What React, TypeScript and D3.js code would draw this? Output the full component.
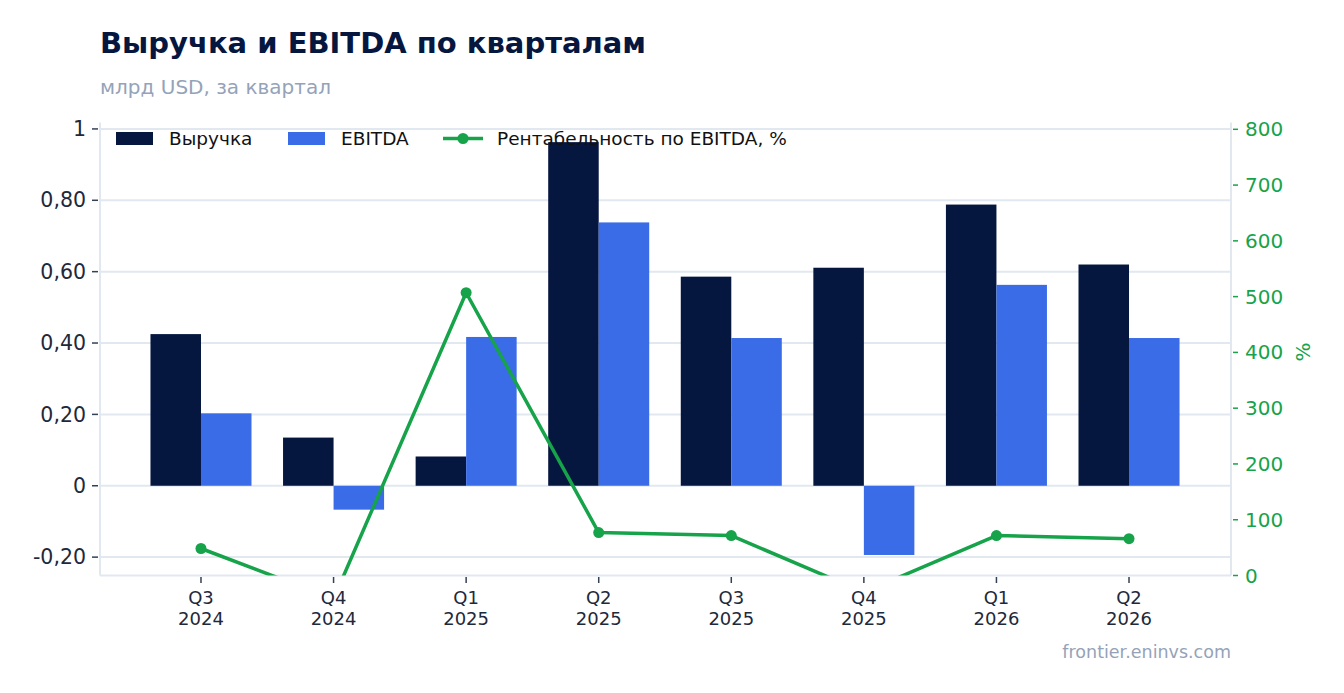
import React from "react";
import * as d3 from "d3";

const quarters = ["Q3", "Q4", "Q1", "Q2", "Q3", "Q4", "Q1", "Q2"];
const years = ["2024", "2024", "2025", "2025", "2025", "2025", "2026", "2026"];
const revenue = [0.425, 0.135, 0.082, 0.963, 0.586, 0.611, 0.788, 0.62];
const ebitda = [0.203, -0.067, 0.417, 0.738, 0.414, -0.194, 0.563, 0.414];
const margin = [48.4, -42, 507, 77, 71.5, -30, 71.5, 66];
const leftTicks = [-0.2, 0, 0.2, 0.4, 0.6, 0.8, 1];
const leftTickLabels = ["-0,20", "0", "0,20", "0,40", "0,60", "0,80", "1"];
const rightTicks = [0, 100, 200, 300, 400, 500, 600, 700, 800];

const W = 1344;
const H = 693;
const plotL = 100;
const plotR = 1231;
const plotT = 122.5;
const plotB = 575.5;

const NAVY = "#05163f";
const BLUE = "#3b6ce7";
const GREEN = "#16a34a";
const GRID = "#e2e8f0";
const TEXT = "#1e293b";
const MUTED = "#94a3b8";
const FONT = "'DejaVu Sans', sans-serif";

export default function App() {
  const keys = quarters.map((q, i) => `${q}-${years[i]}`);
  const x = d3.scaleBand<string>().domain(keys).range([134.7, 1195.3]).padding(0);
  const bw = x.bandwidth();
  const x1 = d3
    .scaleBand<string>()
    .domain(["rev", "ebitda"])
    .range([bw * 0.119, bw * 0.881])
    .padding(0);
  const yL = d3.scaleLinear().domain([-0.2515, 1.018]).range([plotB, plotT]);
  const yR = d3.scaleLinear().domain([0, 812.2]).range([plotB, plotT]);
  const cx = (i: number) => (x(keys[i]) ?? 0) + bw / 2;

  const line = d3
    .line<number>()
    .x((_, i) => cx(i))
    .y((d) => yR(d));

  return (
    <svg
      width={W}
      height={H}
      style={{ position: "absolute", left: 0, top: 0, background: "#fff" }}
      fontFamily={FONT}
    >
      <defs>
        <clipPath id="plotclip">
          <rect x={plotL} y={plotT} width={plotR - plotL} height={plotB - plotT} />
        </clipPath>
      </defs>
      <text x={100} y={53} fontSize={29} fontWeight="bold" fill={NAVY}>
        Выручка и EBITDA по кварталам
      </text>
      <text x={100} y={94} fontSize={20} fill={MUTED}>
        млрд USD, за квартал
      </text>

      {/* grid */}
      {leftTicks.map((t) => (
        <line key={t} x1={plotL} x2={plotR} y1={yL(t)} y2={yL(t)} stroke={GRID} strokeWidth={2} />
      ))}
      {/* axes lines */}
      <line x1={plotL} x2={plotL} y1={plotT} y2={plotB} stroke={GRID} strokeWidth={2} />
      <line x1={plotR} x2={plotR} y1={plotT} y2={plotB} stroke={GRID} strokeWidth={2} />
      <line x1={plotL} x2={plotR} y1={plotB} y2={plotB} stroke={GRID} strokeWidth={2} />

      {/* bars */}
      {keys.map((k, i) => {
        const x0 = x(k) ?? 0;
        const r = revenue[i];
        const e = ebitda[i];
        return (
          <g key={k}>
            <rect
              x={x0 + (x1("rev") ?? 0)}
              width={x1.bandwidth()}
              y={yL(Math.max(0, r))}
              height={Math.abs(yL(r) - yL(0))}
              fill={NAVY}
            />
            <rect
              x={x0 + (x1("ebitda") ?? 0)}
              width={x1.bandwidth()}
              y={yL(Math.max(0, e))}
              height={Math.abs(yL(e) - yL(0))}
              fill={BLUE}
            />
          </g>
        );
      })}

      {/* line */}
      <g clipPath="url(#plotclip)">
        <path d={line(margin) ?? ""} fill="none" stroke={GREEN} strokeWidth={3.5} strokeLinejoin="round" />
        {margin.map((m, i) => (
          <circle key={i} cx={cx(i)} cy={yR(m)} r={5.5} fill={GREEN} />
        ))}
      </g>

      {/* left axis */}
      {leftTicks.map((t, i) => (
        <g key={t}>
          <line x1={92} x2={98} y1={yL(t)} y2={yL(t)} stroke="#334155" strokeWidth={1.5} />
          <text x={86} y={yL(t)} dy="0.35em" textAnchor="end" fontSize={20.5} fill={TEXT}>
            {leftTickLabels[i]}
          </text>
        </g>
      ))}

      {/* right axis */}
      {rightTicks.map((t) => (
        <g key={t}>
          <line x1={1233} x2={1238} y1={yR(t)} y2={yR(t)} stroke={GREEN} strokeWidth={1.5} />
          <text x={1245} y={yR(t)} dy="0.35em" textAnchor="start" fontSize={20} fill={GREEN}>
            {t}
          </text>
        </g>
      ))}
      <text
        transform={`translate(1310, ${(plotT + plotB) / 2 + 3}) rotate(-90)`}
        textAnchor="middle"
        fontSize={20}
        fill={GREEN}
      >
        %
      </text>

      {/* x axis */}
      {keys.map((k, i) => (
        <g key={k}>
          <line x1={cx(i)} x2={cx(i)} y1={577} y2={583} stroke="#334155" strokeWidth={1.5} />
          <text x={cx(i)} y={604} textAnchor="middle" fontSize={18} fill={TEXT}>
            {quarters[i]}
          </text>
          <text x={cx(i)} y={625} textAnchor="middle" fontSize={18} fill={TEXT}>
            {years[i]}
          </text>
        </g>
      ))}

      {/* legend */}
      <g>
        <rect x={116} y={132} width={37} height={13} fill={NAVY} />
        <text x={169} y={139} dy="0.35em" fontSize={18.5} fill="#111">
          Выручка
        </text>
        <rect x={288} y={132} width={37} height={13} fill={BLUE} />
        <text x={341} y={139} dy="0.35em" fontSize={18.5} fill="#111">
          EBITDA
        </text>
        <line x1={443} x2={483} y1={138.5} y2={138.5} stroke={GREEN} strokeWidth={3.5} />
        <circle cx={463} cy={138.5} r={5.5} fill={GREEN} />
        <text x={497} y={139} dy="0.35em" fontSize={18.5} fill="#111">
          Рентабельность по EBITDA, %
        </text>
      </g>

      <text x={1231} y={658} textAnchor="end" fontSize={17.5} fill={MUTED}>
        frontier.eninvs.com
      </text>
    </svg>
  );
}
